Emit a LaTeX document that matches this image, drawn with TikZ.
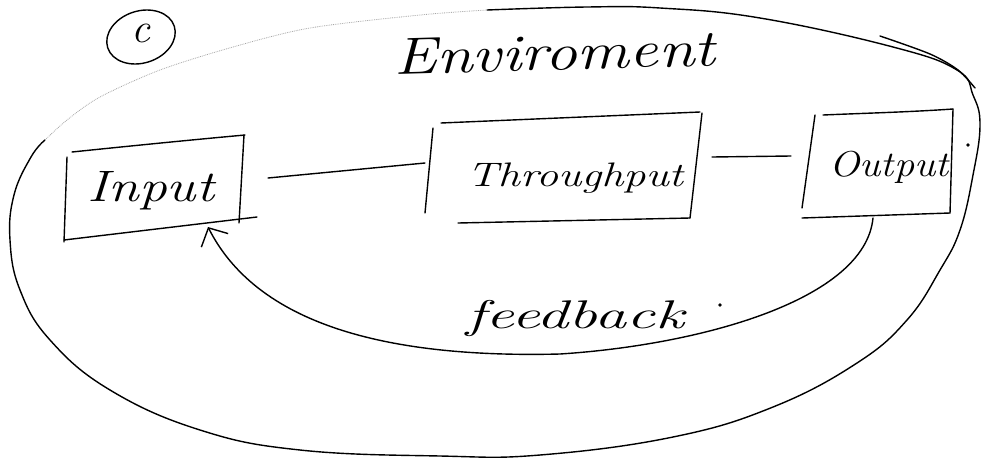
\documentclass[tikz,border=0pt]{standalone}
\usetikzlibrary{arrows.meta,calc}
\tikzset{
  pen/.style={line width=1.4pt, line cap=round, line join=round, black},
  faint/.style={line width=0.8pt, gray!70, densely dotted},
  handtext/.style={inner sep=0pt, anchor=base},
  tipbarb/.style={-{Straight Barb[length=14pt,width=30pt]}}
}
\begin{document}
\begin{tikzpicture}[x=1pt,y=-1pt]
\useasboundingbox (0,0) rectangle (981,458);
\fill[white] (0,0) rectangle (981,458);

% labels / nodes
\node[handtext, font=\itshape\fontsize{42}{46}\selectfont] (cc) at (141,42) {c};
\draw[pen, rotate around={18:(141,37)}] (141,37) ellipse [x radius=35, y radius=26];
\node[handtext, font=\itshape\fontsize{52}{56}\selectfont, xscale=1.25, rotate=2] (env) at (555,70) {Enviroment};
\node[handtext, font=\itshape\fontsize{44}{48}\selectfont, xscale=1.26] (in) at (151,201) {Input};
\node[handtext, font=\itshape\fontsize{34}{38}\selectfont, xscale=1.3] (thr) at (575,186) {Throughput};
\node[handtext, font=\itshape\fontsize{36}{40}\selectfont, xscale=1.12] (out) at (889,176) {Output};
\node[handtext, font=\itshape\fontsize{40}{44}\selectfont, xscale=1.6] (fb) at (575,328) {feedback};
\fill (968,145) circle[radius=1.8pt];
\fill (720,305) circle[radius=1.8pt];

% Input box
\draw[pen] (72,152) .. controls (130,146) and (190,140) .. (245,135);
\draw[pen] (67,157) -- (64,242);
\draw[pen] (244,135) -- (239,223);
\draw[pen] (64,240) -- (257,217);
% Throughput box
\draw[pen] (441,123) -- (700,112);
\draw[pen] (433,128) -- (425,213);
\draw[pen] (702,113) -- (690,218);
\draw[pen] (458,223) -- (690,218);
% Output box
\draw[pen] (815,115) -- (802,208);
\draw[pen] (823,115) .. controls (870,113) and (910,112) .. (953,109);
\draw[pen] (953,109) -- (950,213);
\draw[pen] (802,218) -- (950,213);

% connectors
\draw[pen] ($(in.base)+(117,-23)$) -- ($(thr.base)+(-150,-23)$);
\draw[pen] ($(thr.base)+(137,-29)$) -- ($(out.base)+(-98,-20)$);
\draw[pen, tipbarb] ($(out.base)+(-16,42)$) .. controls (865,300) and (700,345) .. (560,354)
  .. controls (400,358) and (260,330) .. ($(in.base)+(57,26)$);

% environment boundary
\draw[pen] plot[smooth, tension=0.7] coordinates {(487,10) (587,7) (660,8) (760,18) (893,47) (957,70) (973,95) (980,125) (973,175) (960,230) (940,270) (907,320) (857,363) (773,407) (673,437) (540,455) (440,456) (300,450) (200,430) (110,390) (50,340) (20,290) (10,240) (14,195) (31,157) (45,140)};
\draw[faint] plot[smooth] coordinates {(45,140) (67,120) (100,97) (160,70) (233,47) (310,28) (420,15) (487,10)};
\draw[pen] plot[smooth] coordinates {(880,36) (930,54) (958,70) (975,88)};
\end{tikzpicture}
\end{document}
